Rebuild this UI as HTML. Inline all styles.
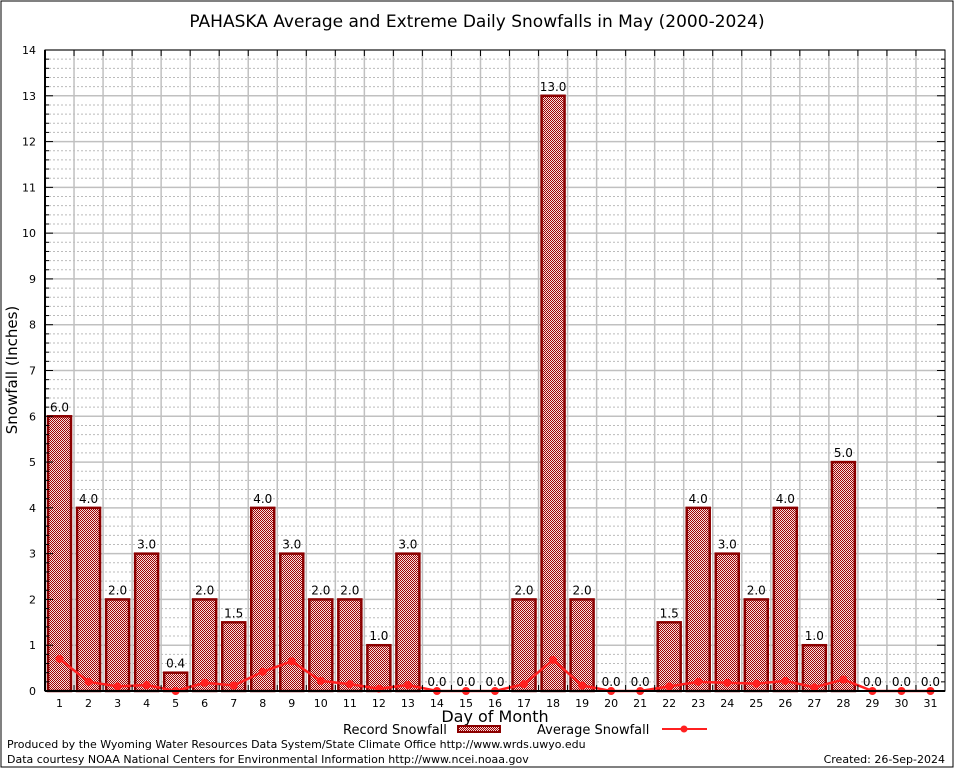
<!DOCTYPE html>
<html><head><meta charset="utf-8"><style>
body{margin:0;background:#fff;}
svg text{font-family:"DejaVu Sans","Liberation Sans",sans-serif;}
</style></head><body>
<svg id="c" width="954" height="768" xmlns="http://www.w3.org/2000/svg">
<defs>
<pattern id="chk" width="2" height="2" patternUnits="userSpaceOnUse">
<rect width="2" height="2" fill="#f4e0e0"/><rect width="1" height="1" fill="#a00000"/><rect x="1" y="1" width="1" height="1" fill="#a00000"/>
</pattern>
</defs>
<rect x="1" y="1" width="952" height="766" fill="#fff" stroke="#000" stroke-width="1"/>
<text x="477" y="27" font-size="17" text-anchor="middle">PAHASKA Average and Extreme Daily Snowfalls in May (2000-2024)</text>
<g id="grid"></g>
<g id="bars"></g>
<g id="line"></g>
<g id="axes"></g>
<text transform="translate(17,370) rotate(-90)" font-size="15" text-anchor="middle">Snowfall (Inches)</text>
<text x="495" y="722" font-size="16" text-anchor="middle">Day of Month</text>
<g>
<text x="343" y="734" font-size="13">Record Snowfall</text>
<rect x="458" y="726" width="42" height="6" fill="url(#chk)" stroke="#8b0000" stroke-width="2"/>
</g>
<g>
<text x="537" y="734" font-size="13">Average Snowfall</text>
<line x1="662" y1="729" x2="707" y2="729" stroke="#ff2020" stroke-width="2"/>
<circle cx="684" cy="729" r="3.5" fill="#ff2020"/>
</g>
<text x="7" y="748" font-size="11">Produced by the Wyoming Water Resources Data System/State Climate Office http://www.wrds.uwyo.edu</text>
<text x="7" y="763" font-size="11">Data courtesy NOAA National Centers for Environmental Information http://www.ncei.noaa.gov</text>
<text x="945" y="763" font-size="11" text-anchor="end">Created: 26-Sep-2024</text>
</svg>
<script>
const days=[1,2,3,4,5,6,7,8,9,10,11,12,13,14,15,16,17,18,19,20,21,22,23,24,25,26,27,28,29,30,31];
const recordSnow=[6,4,2,3,0.4,2,1.5,4,3,2,2,1,3,0,0,0,2,13,2,0,0,1.5,4,3,2,4,1,5,0,0,0];
const avgSnow=[0.7,0.2,0.1,0.13,0,0.18,0.12,0.42,0.65,0.22,0.15,0.05,0.13,0,0,0,0.15,0.68,0.12,0,0,0.1,0.2,0.18,0.16,0.22,0.08,0.25,0,0,0];
const yTicks=[0,1,2,3,4,5,6,7,8,9,10,11,12,13,14];
const L=45,R=945,T=50,B=691,YMAX=14;
const NS='http://www.w3.org/2000/svg';
const xs=d=>L+(d-0.5)*(R-L)/31;
const ys=v=>B-v*(B-T)/YMAX;
function mk(tag,at,parent){const e=document.createElementNS(NS,tag);for(const k in at)e.setAttribute(k,at[k]);parent.appendChild(e);return e;}
const grid=document.getElementById('grid'),bars=document.getElementById('bars'),line=document.getElementById('line'),axes=document.getElementById('axes');
mk('rect',{x:L,y:T,width:R-L,height:B-T,fill:'#fff'},grid);
for(let v=0;v<YMAX;v+=0.2){if(Math.abs(v-Math.round(v))<0.01)continue;mk('line',{x1:L,x2:R,y1:ys(v),y2:ys(v),stroke:'#bbb','stroke-dasharray':'2,2','stroke-width':1},grid);}
yTicks.forEach(v=>{mk('line',{x1:L,x2:R,y1:ys(v),y2:ys(v),stroke:'#c0c0c0','stroke-width':1.5},grid);});
for(let k=1;k<31;k++){const x=L+k*(R-L)/31;mk('line',{x1:x,x2:x,y1:T,y2:B,stroke:'#c0c0c0','stroke-width':1.5},grid);}
days.forEach((d,i)=>{
 const v=recordSnow[i];const x=xs(d);
 if(v>0){const r=mk('rect',{x:x-11.5,y:ys(v),width:23,height:B-ys(v),fill:'url(#chk)',stroke:'#8b0000','stroke-width':2.5},bars);
 
 }
 const t=mk('text',{x:x,y:ys(v)-5,'font-size':12,'text-anchor':'middle'},bars);t.textContent=v.toFixed(1);
 
 
});
const pts=days.map((d,i)=>xs(d)+','+ys(avgSnow[i])).join(' ');
const pl=mk('polyline',{points:pts,fill:'none',stroke:'#ff2020','stroke-width':2.5},line);


days.forEach((d,i)=>{const c=mk('circle',{cx:xs(d),cy:ys(avgSnow[i]),r:4,fill:'#ff2020'},line);
 
 });
mk('rect',{x:L,y:T,width:R-L,height:B-T,fill:'none',stroke:'#000','stroke-width':1},axes);
mk('line',{x1:L,x2:L,y1:T,y2:B,stroke:'#000','stroke-width':2},axes);
mk('line',{x1:L,x2:R,y1:B,y2:B,stroke:'#000','stroke-width':2},axes);
for(let v=0;v<=YMAX+0.01;v+=0.2){const maj=Math.abs(v-Math.round(v))<0.01;mk('line',{x1:L,x2:L+(maj?8:4),y1:ys(v),y2:ys(v),stroke:'#000'},axes);mk('line',{x1:R,x2:R-(maj?8:4),y1:ys(v),y2:ys(v),stroke:'#000'},axes);}
yTicks.forEach(v=>{const t=mk('text',{x:L-9,y:ys(v)+4,'font-size':11,'text-anchor':'end','font-family':'Liberation Serif,serif'},axes);t.textContent=v;
 
 });
for(let k=1;k<31;k++){const x=L+k*(R-L)/31;mk('line',{x1:x,x2:x,y1:B,y2:B-6,stroke:'#000'},axes);mk('line',{x1:x,x2:x,y1:T,y2:T+6,stroke:'#000'},axes);}
days.forEach(d=>{const t=mk('text',{x:xs(d),y:B+16,'font-size':11,'text-anchor':'middle','font-family':'Liberation Serif,serif'},axes);t.textContent=d;
 
 });
</script>
</body></html>
